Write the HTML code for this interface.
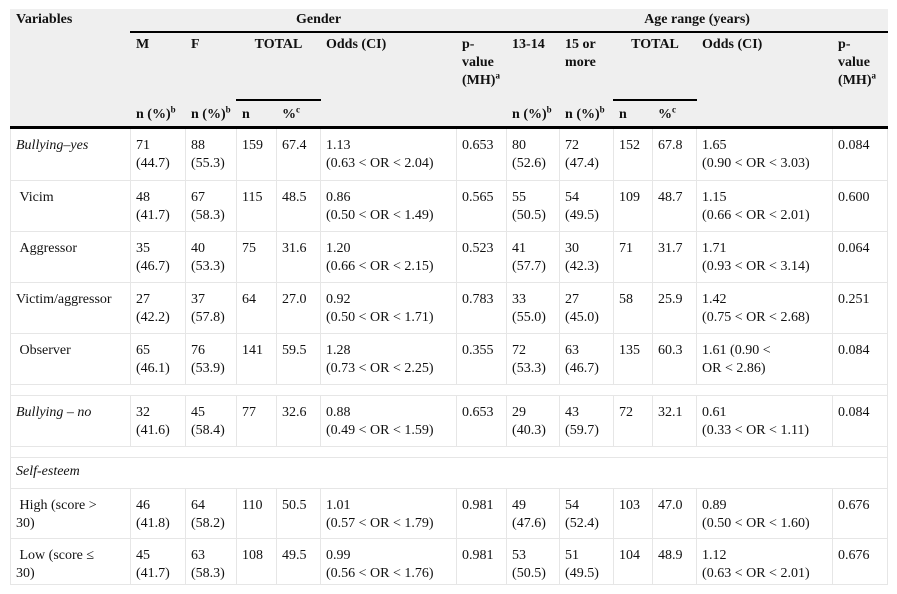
<!DOCTYPE html>
<html><head><meta charset="utf-8"><style>
body{margin:0;background:#fff;width:897px;height:594px;overflow:hidden;font-family:"Liberation Serif",serif;font-size:14px;color:#111}
table{position:absolute;left:10px;top:9px;border-collapse:collapse;table-layout:fixed;width:877px}
td,th{padding:8px 5px 0 5px;vertical-align:top;text-align:left;line-height:18px}
thead th{background:#efefef;border:1px solid #efefef;font-weight:bold;padding-top:1px}
tbody td{border:1px solid #e6e6e6}
tbody tr:first-child td{border-top:3px solid #000}
sup{font-size:9px;line-height:0}
.c{text-align:center}
.b{vertical-align:bottom;padding-bottom:2px}
i{font-style:italic}
.bl{border-bottom:2px solid #000 !important}
.tl{border-top:2px solid #000 !important}
</style></head><body>
<table>
<colgroup><col style="width:120px"><col style="width:55px"><col style="width:51px"><col style="width:40px"><col style="width:44px"><col style="width:136px"><col style="width:50px"><col style="width:53px"><col style="width:54px"><col style="width:39px"><col style="width:44px"><col style="width:136px"><col style="width:55px"></colgroup>
<thead>
<tr style="height:22px"><th rowspan="3">Variables</th><th colspan="6" class="c bl">Gender</th><th colspan="6" class="c bl">Age range (years)</th></tr>
<tr style="height:68px"><th style="padding-top:3px">M</th><th style="padding-top:3px">F</th><th colspan="2" class="c" style="padding-top:3px">TOTAL</th><th rowspan="2" style="padding-top:3px">Odds (CI)</th><th rowspan="2" style="padding-top:3px">p-<br>value<br>(MH)<sup>a</sup></th><th style="padding-top:3px">13-14</th><th style="padding-top:3px">15 or<br>more</th><th colspan="2" class="c" style="padding-top:3px">TOTAL</th><th rowspan="2" style="padding-top:3px">Odds (CI)</th><th rowspan="2" style="padding-top:3px">p-<br>value<br>(MH)<sup>a</sup></th></tr>
<tr style="height:28px"><th class="b">n (%)<sup>b</sup></th><th class="b">n (%)<sup>b</sup></th><th class="tl b">n</th><th class="tl b">%<sup>c</sup></th><th class="b">n (%)<sup>b</sup></th><th class="b">n (%)<sup>b</sup></th><th class="tl b">n</th><th class="tl b">%<sup>c</sup></th></tr>
</thead>
<tbody>
<tr style="height:53px"><td><i>Bullying–yes</i></td><td>71<br>(44.7)</td><td>88<br>(55.3)</td><td>159</td><td>67.4</td><td>1.13<br>(0.63 &lt; OR &lt; 2.04)</td><td>0.653</td><td>80<br>(52.6)</td><td>72<br>(47.4)</td><td>152</td><td>67.8</td><td>1.65<br>(0.90 &lt; OR &lt; 3.03)</td><td>0.084</td></tr>
<tr style="height:51px"><td>&nbsp;Vicim</td><td>48<br>(41.7)</td><td>67<br>(58.3)</td><td>115</td><td>48.5</td><td>0.86<br>(0.50 &lt; OR &lt; 1.49)</td><td>0.565</td><td>55<br>(50.5)</td><td>54<br>(49.5)</td><td>109</td><td>48.7</td><td>1.15<br>(0.66 &lt; OR &lt; 2.01)</td><td>0.600</td></tr>
<tr style="height:51px"><td>&nbsp;Aggressor</td><td>35<br>(46.7)</td><td>40<br>(53.3)</td><td>75</td><td>31.6</td><td>1.20<br>(0.66 &lt; OR &lt; 2.15)</td><td>0.523</td><td>41<br>(57.7)</td><td>30<br>(42.3)</td><td>71</td><td>31.7</td><td>1.71<br>(0.93 &lt; OR &lt; 3.14)</td><td>0.064</td></tr>
<tr style="height:51px"><td>Victim/aggressor</td><td>27<br>(42.2)</td><td>37<br>(57.8)</td><td>64</td><td>27.0</td><td>0.92<br>(0.50 &lt; OR &lt; 1.71)</td><td>0.783</td><td>33<br>(55.0)</td><td>27<br>(45.0)</td><td>58</td><td>25.9</td><td>1.42<br>(0.75 &lt; OR &lt; 2.68)</td><td>0.251</td></tr>
<tr style="height:51px"><td>&nbsp;Observer</td><td>65<br>(46.1)</td><td>76<br>(53.9)</td><td>141</td><td>59.5</td><td>1.28<br>(0.73 &lt; OR &lt; 2.25)</td><td>0.355</td><td>72<br>(53.3)</td><td>63<br>(46.7)</td><td>135</td><td>60.3</td><td>1.61 (0.90 &lt;<br>OR &lt; 2.86)</td><td>0.084</td></tr>
<tr style="height:11px"><td colspan="13" style="padding:0"></td></tr>
<tr style="height:51px"><td><i>Bullying – no</i></td><td>32<br>(41.6)</td><td>45<br>(58.4)</td><td>77</td><td>32.6</td><td>0.88<br>(0.49 &lt; OR &lt; 1.59)</td><td>0.653</td><td>29<br>(40.3)</td><td>43<br>(59.7)</td><td>72</td><td>32.1</td><td>0.61<br>(0.33 &lt; OR &lt; 1.11)</td><td>0.084</td></tr>
<tr style="height:11px"><td colspan="13" style="padding:0"></td></tr>
<tr style="height:31px"><td colspan="13" style="padding-top:5px"><i>Self-esteem</i></td></tr>
<tr style="height:50px"><td>&nbsp;High (score &gt;<br>30)</td><td>46<br>(41.8)</td><td>64<br>(58.2)</td><td>110</td><td>50.5</td><td>1.01<br>(0.57 &lt; OR &lt; 1.79)</td><td>0.981</td><td>49<br>(47.6)</td><td>54<br>(52.4)</td><td>103</td><td>47.0</td><td>0.89<br>(0.50 &lt; OR &lt; 1.60)</td><td>0.676</td></tr>
<tr style="height:46px"><td>&nbsp;Low (score ≤<br>30)</td><td>45<br>(41.7)</td><td>63<br>(58.3)</td><td>108</td><td>49.5</td><td>0.99<br>(0.56 &lt; OR &lt; 1.76)</td><td>0.981</td><td>53<br>(50.5)</td><td>51<br>(49.5)</td><td>104</td><td>48.9</td><td>1.12<br>(0.63 &lt; OR &lt; 2.01)</td><td>0.676</td></tr>
</tbody></table>
</body></html>
